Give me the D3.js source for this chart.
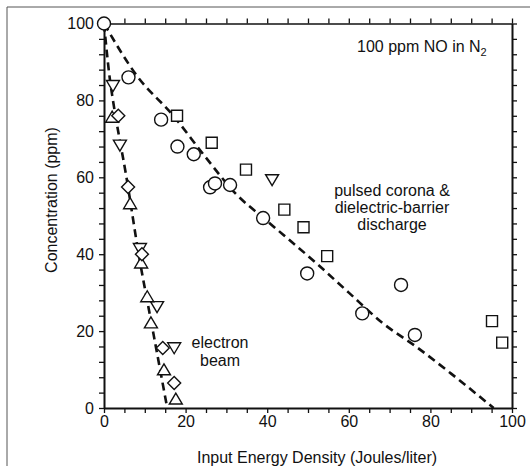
<!DOCTYPE html>
<html>
<head>
<meta charset="utf-8">
<script src="https://cdn.jsdelivr.net/npm/d3@7"></script>
<style>
  html, body { margin: 0; padding: 0; background: #fff; }
  svg { display: block; font-family: "Liberation Sans", Arial, Helvetica, sans-serif; }
</style>
</head>
<body>
<script>
// pulsed corona & dielectric-barrier discharge runs
const circlePts = [
  [0, 100], [6, 86], [14, 75], [18, 68], [22, 66], [26, 57.4], [27.2, 58.4],
  [30.9, 58], [39, 49.4], [49.8, 35], [72.8, 32], [63.3, 24.6], [76.2, 19]
];
const squarePts = [
  [17.9, 76], [26.4, 69], [34.8, 62], [44.2, 51.6], [48.9, 47], [54.7, 39.5],
  [95.1, 22.6], [97.6, 17]
];
// electron beam runs (plus one discharge point for the down triangles)
const triDownPts = [[2.2, 84], [3.9, 68.5], [41.2, 59.5], [8.8, 41.6], [13, 26.5], [17.2, 15.8]];
const triUpPts = [[2, 75.5], [6.4, 53], [9.1, 37.6], [10.6, 28.8], [11.5, 22], [14.7, 9.8], [17.6, 2.2]];
const diamondPts = [[3.5, 76], [5.9, 57.5], [9.3, 40], [14.4, 15.6], [17.2, 6.5]];

// dashed guide curves
const coronaCurve = [
  [0, 100], [8, 86.5], [17, 76], [24.7, 65.5], [32.5, 55.5], [39, 49.5], [44, 45],
  [52, 37.7], [60, 30], [68.4, 22], [76.7, 15.8], [85, 9], [95.5, 0]
];
const beamCurve = [[0, 100], [1.5, 85], [2.2, 80], [5.5, 60], [8.5, 40], [12, 20], [15.5, 0]];

const xTicks = d3.range(0, 101, 5);
const yTicks = d3.range(0, 101, 4);
const xLabels = [0, 20, 40, 60, 80, 100];
const yLabels = [0, 20, 40, 60, 80, 100];

const width = 530, height = 466;
const margin = {top: 23.5, right: 18, bottom: 58, left: 104};

const svg = d3.select("body").append("svg")
  .attr("width", width)
  .attr("height", height);

// outer frame (scanned page border)
svg.append("path")
  .attr("d", "M7,470 L7,7 L535,7")
  .attr("fill", "none")
  .attr("stroke", "#555")
  .attr("stroke-width", 1);

const x = d3.scaleLinear().domain([0, 100]).range([margin.left, width - margin.right]);
const y = d3.scaleLinear().domain([0, 100]).range([height - margin.bottom, margin.top]);

const fmtX = (d) => (xLabels.includes(d) ? d : "");
const fmtY = (d) => (yLabels.includes(d) ? d : "");

function styleAxis(g, w) {
  g.select(".domain").attr("stroke", "#111").attr("stroke-width", w);
  g.selectAll(".tick line").attr("stroke", "#111").attr("stroke-width", 1.3);
  g.selectAll(".tick text").attr("fill", "#111").attr("font-size", 16);
}

svg.append("g")
  .attr("transform", `translate(0,${y(0)})`)
  .call(d3.axisBottom(x).tickValues(xTicks).tickSize(5).tickSizeOuter(0).tickPadding(3).tickFormat(fmtX))
  .call((g) => styleAxis(g, 2));

svg.append("g")
  .attr("transform", `translate(0,${y(100)})`)
  .call(d3.axisTop(x).tickValues(xTicks).tickSize(5).tickSizeOuter(0).tickFormat(""))
  .call((g) => styleAxis(g, 1.6));

svg.append("g")
  .attr("transform", `translate(${x(0)},0)`)
  .call(d3.axisLeft(y).tickValues(yTicks).tickSize(5).tickSizeOuter(0).tickPadding(5).tickFormat(fmtY))
  .call((g) => styleAxis(g, 2));

svg.append("g")
  .attr("transform", `translate(${x(100)},0)`)
  .call(d3.axisRight(y).tickValues(yTicks).tickSize(5).tickSizeOuter(0).tickFormat(""))
  .call((g) => styleAxis(g, 2));

// dashed curves
const line = d3.line()
  .x((d) => x(d[0]))
  .y((d) => y(d[1]))
  .curve(d3.curveMonotoneX);

for (const pts of [coronaCurve, beamCurve]) {
  svg.append("path")
    .datum(pts)
    .attr("fill", "none")
    .attr("stroke", "#111")
    .attr("stroke-width", 2.6)
    .attr("stroke-dasharray", "8,5")
    .attr("d", line);
}

// marker shapes
const shapes = {
  circle: (cx, cy) => `M${cx - 6.5},${cy}a6.5,6.5 0 1,0 13,0a6.5,6.5 0 1,0 -13,0Z`,
  square: (cx, cy) => `M${cx - 5.5},${cy - 5.5}h11v11h-11Z`,
  triDown: (cx, cy) => `M${cx - 6.5},${cy - 4.5}h13l-6.5,11Z`,
  triUp: (cx, cy) => `M${cx - 6.5},${cy + 4.5}h13l-6.5,-11Z`,
  diamond: (cx, cy) => `M${cx - 6.5},${cy}l6.5,-6.5l6.5,6.5l-6.5,6.5Z`
};

const groups = [
  [circlePts, shapes.circle],
  [squarePts, shapes.square],
  [triDownPts, shapes.triDown],
  [triUpPts, shapes.triUp],
  [diamondPts, shapes.diamond]
];

for (const [pts, shape] of groups) {
  svg.append("g")
    .selectAll("path")
    .data(pts)
    .join("path")
    .attr("d", (d) => shape(x(d[0]), y(d[1])))
    .attr("fill", "#fff")
    .attr("stroke", "#111")
    .attr("stroke-width", 1.4);
}

// axis titles
svg.append("text")
  .attr("x", 317)
  .attr("y", 463)
  .attr("text-anchor", "middle")
  .attr("font-size", 16)
  .attr("fill", "#111")
  .text("Input Energy Density (Joules/liter)");

svg.append("text")
  .attr("transform", "translate(57,200) rotate(-90)")
  .attr("text-anchor", "middle")
  .attr("font-size", 16)
  .attr("fill", "#111")
  .text("Concentration (ppm)");

// annotations
const note = svg.append("text")
  .attr("x", 357)
  .attr("y", 52)
  .attr("font-size", 16)
  .attr("fill", "#111");
note.append("tspan").text("100 ppm NO in N");
note.append("tspan").attr("dy", 4).attr("font-size", 11).text("2");

const corona = ["pulsed corona &", "dielectric-barrier", "discharge"];
svg.append("g")
  .selectAll("text")
  .data(corona)
  .join("text")
  .attr("x", 392)
  .attr("y", (d, i) => 196 + i * 17)
  .attr("text-anchor", "middle")
  .attr("font-size", 16)
  .attr("fill", "#111")
  .text((d) => d);

const beam = ["electron", "beam"];
svg.append("g")
  .selectAll("text")
  .data(beam)
  .join("text")
  .attr("x", 220)
  .attr("y", (d, i) => 348 + i * 18)
  .attr("text-anchor", "middle")
  .attr("font-size", 16)
  .attr("fill", "#111")
  .text((d) => d);
</script>
</body>
</html>
